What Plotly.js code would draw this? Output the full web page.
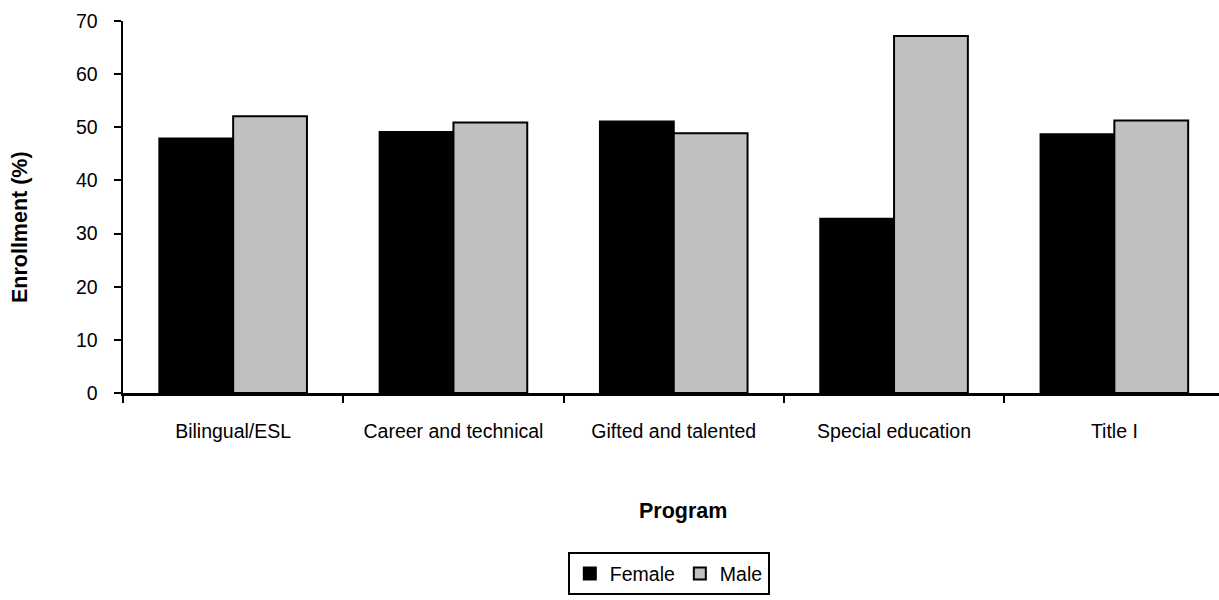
<!DOCTYPE html>
<html>
<head>
<meta charset="utf-8">
<script src="https://cdn.plot.ly/plotly-3.0.1.min.js"></script>
<style>
  html, body { margin: 0; padding: 0; background: #ffffff; }
  #chart { width: 1219px; height: 600px; }
</style>
</head>
<body>
<div id="chart"></div>
<script>
// Enrollment share by sex in each program
const programs = ["Bilingual/ESL", "Career and technical", "Gifted and talented", "Special education", "Title I"];
const female = [47.9, 49.1, 51.1, 32.8, 48.7];
const male = [52.1, 50.9, 48.9, 67.2, 51.3];
const yTicks = [0, 10, 20, 30, 40, 50, 60, 70];

const FONT = "'Liberation Sans', Arial, Helvetica, sans-serif";

const traces = [
  {
    type: "bar",
    name: "Female",
    x: programs,
    y: female,
    marker: { color: "#000000", line: { color: "#000000", width: 2 } },
    hoverinfo: "x+y+name"
  },
  {
    type: "bar",
    name: "Male",
    x: programs,
    y: male,
    marker: { color: "#c0c0c0", line: { color: "#000000", width: 2 } },
    hoverinfo: "x+y+name"
  }
];

const layout = {
  width: 1219,
  height: 600,
  margin: { l: 123, r: 0, t: 21, b: 207 },
  paper_bgcolor: "#ffffff",
  plot_bgcolor: "#ffffff",
  font: { family: FONT, size: 19.5, color: "#000000" },
  barmode: "group",
  bargap: 0.33,
  bargroupgap: 0,
  showlegend: true,
  legend: {
    orientation: "h",
    x: 0.498,
    xanchor: "center",
    y: -0.4286,
    yanchor: "top",
    bordercolor: "#000000",
    borderwidth: 2,
    bgcolor: "#ffffff",
    font: { family: FONT, size: 19.5, color: "#000000" },
    itemwidth: 30,
    traceorder: "normal"
  },
  xaxis: {
    type: "category",
    range: [-0.5, 4.475],
    showline: true,
    linecolor: "#000000",
    linewidth: 2.5,
    ticks: "outside",
    tickson: "boundaries",
    ticklen: 7,
    tickwidth: 2,
    tickcolor: "#000000",
    ticklabelstandoff: 19,
    showgrid: false,
    zeroline: false,
    fixedrange: true
  },
  yaxis: {
    range: [0, 70],
    tickvals: yTicks,
    ticktext: yTicks.map(String),
    showline: true,
    linecolor: "#000000",
    linewidth: 2.5,
    ticks: "outside",
    ticklen: 7,
    tickwidth: 2,
    tickcolor: "#000000",
    ticklabelstandoff: 12,
    showgrid: false,
    zeroline: false,
    fixedrange: true
  },
  annotations: [
    {
      text: "<b>Enrollment (%)</b>",
      xref: "paper", yref: "paper",
      x: -0.094, y: 0.446,
      xanchor: "center", yanchor: "middle",
      textangle: -90,
      showarrow: false,
      font: { family: FONT, size: 21.5, color: "#000000" }
    },
    {
      text: "<b>Program</b>",
      xref: "paper", yref: "paper",
      x: 0.511, y: -0.318,
      xanchor: "center", yanchor: "middle",
      showarrow: false,
      font: { family: FONT, size: 21.5, color: "#000000" }
    }
  ]
};

Plotly.newPlot("chart", traces, layout, { displayModeBar: false, staticPlot: true });
</script>
</body>
</html>
